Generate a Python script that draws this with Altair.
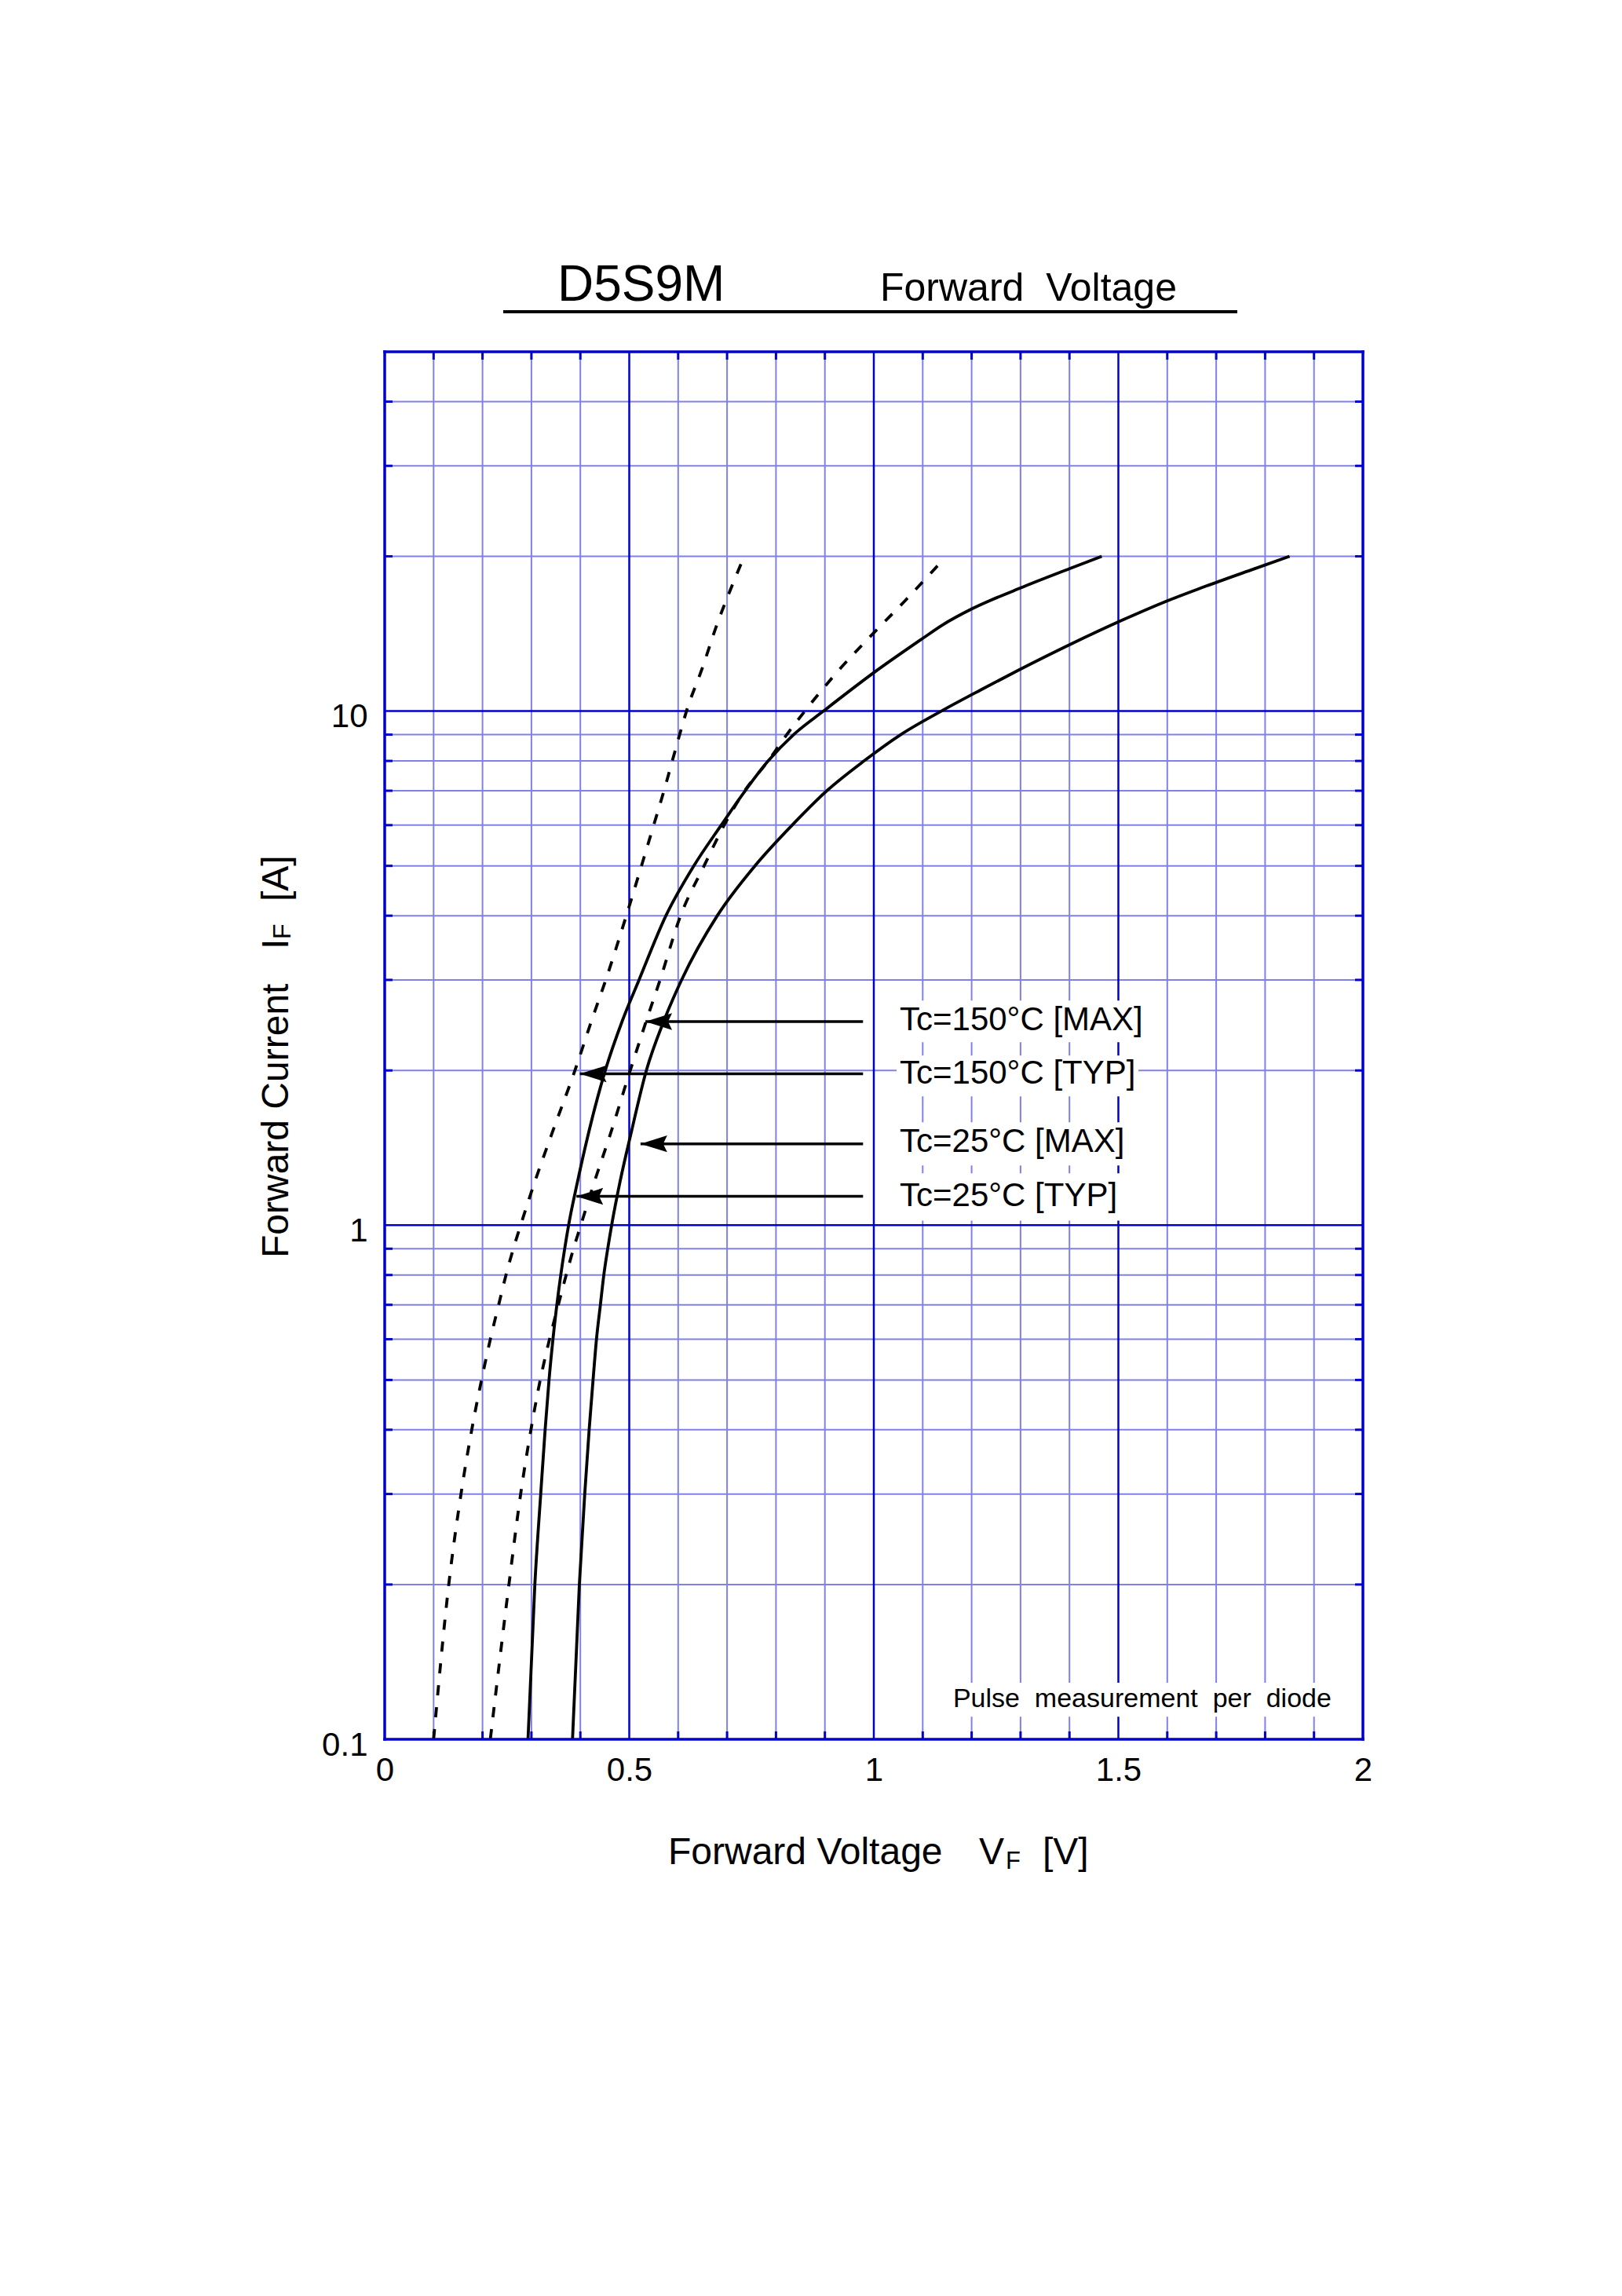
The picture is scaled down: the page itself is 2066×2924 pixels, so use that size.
import altair as alt
import pandas as pd

FONT = "Liberation Sans"
W, H = 1246, 1767
LIGHT = "#8080E8"
DARK = "#0000CC"

# ---------------- data ----------------
# Tc=150°C [TYP] (dashed)
i_150_typ = [0.1, 0.2, 0.3, 0.4, 0.5, 0.6, 0.7, 0.8, 0.9, 1, 1.2, 1.5, 2, 2.5, 3, 4, 5, 6, 7, 8, 9, 10,
             12.1, 14.8, 17.9, 20]
v_150_typ = [0.100, 0.131, 0.156, 0.178, 0.198, 0.216, 0.233, 0.248, 0.263, 0.278, 0.305, 0.341, 0.389, 0.423,
             0.452, 0.494, 0.525, 0.550, 0.571, 0.588, 0.603, 0.617, 0.649, 0.680, 0.714, 0.735]
# Tc=150°C [MAX] (dashed)
i_150_max = [0.1, 0.2, 0.3, 0.4, 0.5, 0.6, 0.7, 0.8, 0.9, 1, 1.2, 1.5, 2, 2.5, 3, 4, 5, 6, 7, 8, 9, 10,
             12, 14.2, 16.4, 19.2]
v_150_max = [0.216, 0.254, 0.278, 0.299, 0.318, 0.337, 0.355, 0.371, 0.386, 0.401, 0.427, 0.461, 0.502, 0.535,
             0.563, 0.605, 0.653, 0.694, 0.736, 0.784, 0.822, 0.859, 0.928, 1.000, 1.064, 1.131]
# Tc=25°C [TYP] (solid)
i_25_typ = [0.1, 0.2, 0.3, 0.4, 0.5, 0.6, 0.7, 0.8, 0.9, 1, 1.2, 1.5, 2, 2.5, 3, 4, 5, 6, 7, 8, 9, 10,
            11.88, 13.85, 14.7, 15.8, 17.36, 18.92, 20]
v_25_typ = [0.293, 0.307, 0.319, 0.328, 0.336, 0.344, 0.352, 0.360, 0.368, 0.376, 0.393, 0.416, 0.451, 0.486,
            0.520, 0.575, 0.632, 0.688, 0.737, 0.784, 0.836, 0.897, 1.000, 1.100, 1.140, 1.200, 1.300, 1.400, 1.466]
# Tc=25°C [MAX] (solid)
i_25_max = [0.1, 0.2, 0.3, 0.4, 0.5, 0.6, 0.7, 0.8, 0.9, 1, 1.2, 1.5, 2, 2.5, 3, 4, 5, 6, 7, 8, 9, 10,
            11, 12, 13.5, 15, 16.3, 17.6, 18.9, 20]
v_25_max = [0.384, 0.398, 0.409, 0.418, 0.426, 0.433, 0.441, 0.448, 0.456, 0.464, 0.480, 0.503, 0.535, 0.571,
            0.607, 0.680, 0.757, 0.833, 0.904, 0.980, 1.055, 1.138, 1.219, 1.295, 1.403, 1.506, 1.594, 1.686,
            1.777, 1.850]

# annotation arrows and labels
label_text = ["Tc=150°C [MAX]", "Tc=150°C [TYP]", "Tc=25°C [MAX]", "Tc=25°C [TYP]"]
arrow_i = [2.49, 1.97, 1.44, 1.138]
arrow_tip_v = [0.533, 0.399, 0.523, 0.392]
arrow_tail_v = [0.978, 0.978, 0.978, 0.978]
label_v = [1.053, 1.053, 1.053, 1.053]
label_i = [2.392, 1.884, 1.387, 1.088]
box_v_left = [1.0466, 1.0466, 1.0466, 1.0466]
box_v_right = [1.565, 1.541, 1.525, 1.509]
box_i_top = [2.734, 2.138, 1.585, 1.261]
box_i_bottom = [2.269, 1.780, 1.307, 1.021]

note_text = ["Pulse\u00a0 measurement\u00a0 per\u00a0 diode"]
note_v = [1.162]
note_i = [0.1154]
note_box_v = [1.155, 1.965]
note_box_i = [0.1288, 0.1106]

# grid / ticks
x_tick_values = [0, 0.5, 1, 1.5, 2]
y_tick_values = [0.1, 1, 10]
minor_v = [0.1, 0.2, 0.3, 0.4, 0.6, 0.7, 0.8, 0.9, 1.1, 1.2, 1.3, 1.4, 1.6, 1.7, 1.8, 1.9]
major_v = [0.5, 1.0, 1.5]
minor_i = [0.2, 0.3, 0.4, 0.5, 0.6, 0.7, 0.8, 0.9, 2, 3, 4, 5, 6, 7, 8, 9, 20, 30, 40]
major_i = [1, 10]
border_v = [0, 2]
border_i = [0.1, 50]

# ---------------- scales / axes ----------------
x_scale = alt.Scale(domain=[0, 2], nice=False, zero=False)
y_scale = alt.Scale(type="log", domain=[0.1, 50], nice=False)
x_axis = alt.Axis(values=x_tick_values, format="~g", title=None, grid=False, ticks=False, tickSize=0,
                  domain=False, labelFont=FONT, labelFontSize=42, labelColor="black", labelPadding=19,
                  labelFlush=False, labelOverlap=False, labelBound=False)
y_axis = alt.Axis(values=y_tick_values, format="~g", title=None, grid=False, ticks=False, tickSize=0,
                  domain=False, labelFont=FONT, labelFontSize=42, labelColor="black", labelPadding=22,
                  labelOffset=7, labelFlush=False, labelOverlap=False, labelBound=False)


def X(field="V"):
    return alt.X(f"{field}:Q", scale=x_scale, axis=x_axis)


def Y(field="I"):
    return alt.Y(f"{field}:Q", scale=y_scale, axis=y_axis)


layers = []

vminor_df = pd.DataFrame({"V": minor_v})
hminor_df = pd.DataFrame({"I": minor_i})
layers.append(alt.Chart(vminor_df).mark_rule(color=LIGHT, strokeWidth=2).encode(x=X()))
layers.append(alt.Chart(hminor_df).mark_rule(color=LIGHT, strokeWidth=2).encode(y=Y()))
layers.append(alt.Chart(pd.DataFrame({"V": major_v})).mark_rule(color=DARK, strokeWidth=2.5).encode(x=X()))
layers.append(alt.Chart(pd.DataFrame({"I": major_i})).mark_rule(color=DARK, strokeWidth=2.5).encode(y=Y()))

# inward ticks (dark ends of minor lines)
layers.append(alt.Chart(vminor_df).mark_rule(color=DARK, strokeWidth=3).encode(
    x=X(), y=alt.value(H), y2=alt.value(H - 10)))
layers.append(alt.Chart(vminor_df).mark_rule(color=DARK, strokeWidth=3).encode(
    x=X(), y=alt.value(0), y2=alt.value(10)))
layers.append(alt.Chart(hminor_df).mark_rule(color=DARK, strokeWidth=3).encode(
    y=Y(), x=alt.value(0), x2=alt.value(10)))
layers.append(alt.Chart(hminor_df).mark_rule(color=DARK, strokeWidth=3).encode(
    y=Y(), x=alt.value(W - 10), x2=alt.value(W)))

# white label backgrounds
box_df = pd.DataFrame({"V": box_v_left + [note_box_v[0]], "V2": box_v_right + [note_box_v[1]],
                       "I": box_i_top + [note_box_i[0]], "I2": box_i_bottom + [note_box_i[1]]})
layers.append(alt.Chart(box_df).mark_rect(color="white").encode(x=X(), x2="V2:Q", y=Y(), y2="I2:Q"))


def curve(v, i, dash=None):
    df = pd.DataFrame({"V": v, "I": i, "k": list(range(len(v)))})
    kw = dict(color="black", strokeWidth=3.8, strokeJoin="round", interpolate="monotone")
    if dash:
        kw["strokeDash"] = dash
    return alt.Chart(df).mark_line(**kw).encode(x=X(), y=Y(), order="k:Q")


layers.append(curve(v_150_typ, i_150_typ, [13, 15]))
layers.append(curve(v_150_max, i_150_max, [13, 15]))
layers.append(curve(v_25_typ, i_25_typ))
layers.append(curve(v_25_max, i_25_max))

# arrows
arrow_df = pd.DataFrame({"V": arrow_tip_v, "V2": arrow_tail_v, "I": arrow_i})
layers.append(alt.Chart(arrow_df).mark_rule(color="black", strokeWidth=3.5).encode(x=X(), x2="V2:Q", y=Y()))
ARROW = "M 0 0 L 2 -0.63 L 1.7 0 L 2 0.63 Z"
layers.append(alt.Chart(arrow_df).mark_point(shape=ARROW, size=1156, filled=True, color="black",
                                             opacity=1, strokeWidth=0).encode(x=X(), y=Y()))

# labels
label_df = pd.DataFrame({"V": label_v, "I": label_i, "t": label_text})
layers.append(alt.Chart(label_df).mark_text(align="left", baseline="alphabetic", font=FONT, fontSize=42,
                                            color="black").encode(x=X(), y=Y(), text="t:N"))
note_df = pd.DataFrame({"V": note_v, "I": note_i, "t": note_text})
layers.append(alt.Chart(note_df).mark_text(align="left", baseline="alphabetic", font=FONT, fontSize=34,
                                           color="black").encode(x=X(), y=Y(), text="t:N"))

# frame
layers.append(alt.Chart(pd.DataFrame({"V": border_v})).mark_rule(color=DARK, strokeWidth=3.5, strokeCap="square").encode(x=X()))
layers.append(alt.Chart(pd.DataFrame({"I": border_i})).mark_rule(color=DARK, strokeWidth=3.5, strokeCap="square").encode(y=Y()))


def ptext(txt, x, y, size, angle=0):
    return alt.Chart(alt.Data(values=[{}])).mark_text(
        text=txt, align="left", baseline="alphabetic", font=FONT, fontSize=size, color="black", angle=angle
    ).encode(x=alt.value(x), y=alt.value(y))


# chart title with underline
layers.append(ptext("D5S9M", 220, -65, 64))
layers.append(ptext("Forward\u00a0 Voltage", 631, -65, 50))
layers.append(alt.Chart(alt.Data(values=[{}])).mark_rule(color="black", strokeWidth=4).encode(
    x=alt.value(151), x2=alt.value(1086), y=alt.value(-51)))

# x axis title: Forward Voltage  V_F  [V]
layers.append(ptext("Forward Voltage", 361, 1926, 48))
layers.append(ptext("V", 757, 1926, 48))
layers.append(ptext("F", 791, 1932, 31))
layers.append(ptext("[V]", 838, 1926, 48))

# y axis title: Forward Current  I_F  [A]
layers.append(ptext("Forward Current", -123, 1154, 48, angle=270))
layers.append(ptext("I", -123, 761, 48, angle=270))
layers.append(ptext("F", -120, 748, 32, angle=270))
layers.append(ptext("[A]", -123, 700, 48, angle=270))

chart = alt.layer(*layers).properties(
    width=W, height=H,
    autosize=alt.AutoSizeParams(type="none"),
    padding={"left": 482, "top": 440, "right": 320, "bottom": 690},
).configure_view(stroke=None)

chart.save("out.html", embed_options={"renderer": "svg", "actions": False})
